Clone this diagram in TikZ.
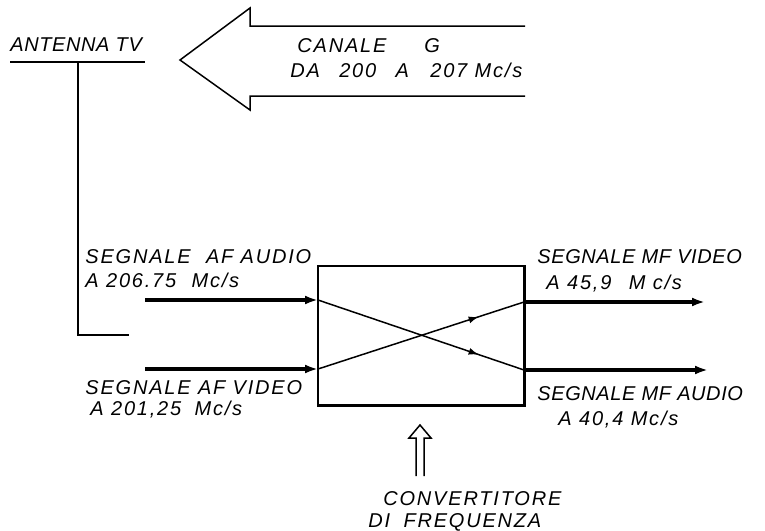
\documentclass[tikz,border=0pt]{standalone}
\usepackage{fontspec}
\setmainfont{Liberation Sans}
\newfontfamily\drawfont[LetterSpace=9]{Liberation Sans}
\newfontfamily\tightfont[LetterSpace=3]{Liberation Sans}
\usetikzlibrary{arrows.meta,positioning,decorations.markings}

\begin{document}
\begin{tikzpicture}[x=0.5pt, y=-0.5pt,
    lbl/.style={anchor=base west, inner sep=0pt, font=\drawfont\itshape\fontsize{10}{12}\selectfont},
    tightlbl/.style={lbl, font=\tightfont\itshape\fontsize{10}{12}\selectfont},
    sig/.style={-{Latex[length=6.5pt,width=4.5pt]}, line width=2pt},
    wire/.style={line width=0.75pt},
    midarrow/.style={postaction={decorate}, decoration={markings,
      mark=at position 0.78 with {\arrow{Latex[length=5pt,width=3.5pt]}}}}]

\useasboundingbox (0,0) rectangle (765,530);

% Antenna with its feed line
\node[tightlbl] (antenna) at (10,51) {ANTENNA TV};
\coordinate (ulstart) at (10,62);
\coordinate (ulend)   at (145,62);
\coordinate (feedtop) at (78,62);
\coordinate (feedbot) at (78,335);
\coordinate (feedend) at (129,335);
\draw[wire] (ulstart) -- (ulend);
\draw[wire] (feedtop) -- (feedbot) -- (feedend);

% Big hollow arrow: incoming channel
\draw[wire] (525,26) -- (250,26) -- (250,8) -- (180,60) -- (250,110) -- (250,96) -- (525,96);
\node[lbl] (canale) at (297,52) {CANALE\hspace{19pt}G};
\node[lbl] (banda)  at (290,77) {DA\hspace{6pt} 200\hspace{6pt} A\hspace{7pt} 207 Mc/s};

% The converter box
\node[draw, wire, minimum width=103pt, minimum height=69.5pt, inner sep=0pt] (conv) at (421,335.5) {};
\draw[line width=1.5pt] (conv.north east) -- (conv.south east) -- (conv.south west);

% Ends of the signal lines
\coordinate (srcaudio) at (145,300);
\coordinate (srcvideo) at (145,369);
\coordinate (inaudio)  at (318,300);
\coordinate (invideo)  at (318,369);
\coordinate (outvideo) at (524,302);
\coordinate (outaudio) at (524,370);
\coordinate (dstvideo) at (705,302);
\coordinate (dstaudio) at (708,370);

% Input and output signals
\draw[sig] (srcaudio) -- (inaudio);
\draw[sig] (srcvideo) -- (invideo);
\draw[sig] (outvideo) -- (dstvideo);
\draw[sig] (outaudio) -- (dstaudio);

% Crossing inside the converter
\draw[wire, midarrow] (inaudio) -- (outaudio);
\draw[wire, midarrow] (invideo) -- (outvideo);

% Labels of the signals
\node[lbl] (afaudio)  at (85,263) {SEGNALE\hspace{4pt} AF AUDIO};
\node[lbl] (afaudiof) at (85,287) {A 206.75\hspace{4pt} Mc/s};
\node[lbl] (afvideo)  at (85,394) {SEGNALE AF VIDEO};
\node[lbl] (afvideof) at (90,415) {A 201,25\hspace{3pt} Mc/s};
\node[tightlbl] (mfvideo)  at (537,263) {SEGNALE MF VIDEO};
\node[lbl] (mfvideof) at (546,289) {A 45,9\hspace{5pt} M c/s};
\node[tightlbl] (mfaudio)  at (537,400) {SEGNALE MF AUDIO};
\node[lbl] (mfaudiof) at (558,425) {A 40,4 Mc/s};

% Local oscillator input
\draw[wire] (416,476) -- (416,438) -- (409,438) -- (420,425) -- (431,438) -- (424,438) -- (424,476);
\node[lbl] (convlbl)  at (383,505) {CONVERTITORE};
\node[lbl] (freqlbl)  at (368,527) {DI\hspace{3pt} FREQUENZA};

\end{tikzpicture}
\end{document}
